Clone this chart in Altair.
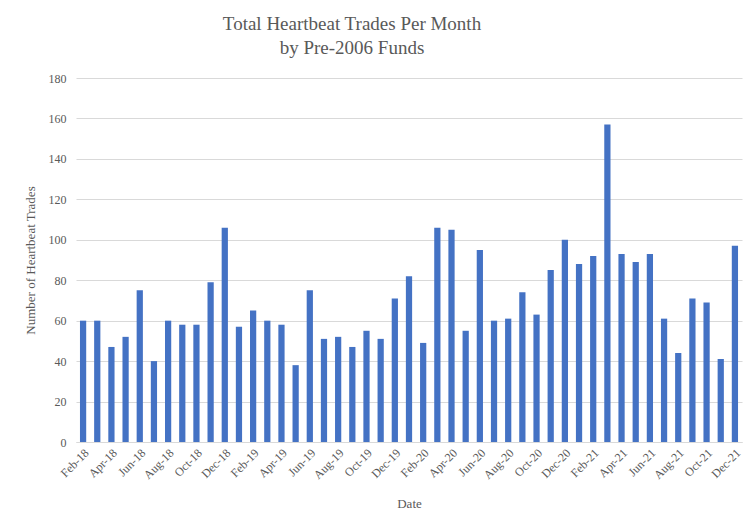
import altair as alt
import pandas as pd

months = [
    "Feb-18", "Mar-18", "Apr-18", "May-18", "Jun-18", "Jul-18", "Aug-18", "Sep-18", "Oct-18", "Nov-18", "Dec-18",
    "Jan-19", "Feb-19", "Mar-19", "Apr-19", "May-19", "Jun-19", "Jul-19", "Aug-19", "Sep-19", "Oct-19", "Nov-19", "Dec-19",
    "Jan-20", "Feb-20", "Mar-20", "Apr-20", "May-20", "Jun-20", "Jul-20", "Aug-20", "Sep-20", "Oct-20", "Nov-20", "Dec-20",
    "Jan-21", "Feb-21", "Mar-21", "Apr-21", "May-21", "Jun-21", "Jul-21", "Aug-21", "Sep-21", "Oct-21", "Nov-21", "Dec-21",
]
trades = [
    60, 60, 47, 52, 75, 40, 60, 58, 58, 79, 106,
    57, 65, 60, 58, 38, 75, 51, 52, 47, 55, 51, 71,
    82, 49, 106, 105, 55, 95, 60, 61, 74, 63, 85, 100,
    88, 92, 157, 93, 89, 93, 61, 44, 71, 69, 41, 97,
]
shown_labels = months[::2]
y_ticks = list(range(0, 181, 20))

df = pd.DataFrame({"Date": months, "Trades": trades})

FONT = "Liberation Serif"
GREY = "#595959"

chart = alt.Chart(df).mark_bar(color="#4472C4").encode(
    x=alt.X(
        "Date:N",
        sort=months,
        scale=alt.Scale(paddingInner=0.56, paddingOuter=0.28),
        axis=alt.Axis(
            title="Date",
            values=shown_labels,
            labelAngle=-45,
            labelFont=FONT,
            labelFontSize=12,
            labelColor=GREY,
            labelPadding=5,
            ticks=False,
            domainColor="#D9D9D9",
            titleFont=FONT,
            titleFontSize=13,
            titleFontWeight="normal",
            titleColor=GREY,
            titlePadding=17,
        ),
    ),
    y=alt.Y(
        "Trades:Q",
        scale=alt.Scale(domain=[0, 180]),
        axis=alt.Axis(
            title="Number of Heartbeat Trades",
            values=y_ticks,
            labelFont=FONT,
            labelFontSize=12,
            labelColor=GREY,
            labelPadding=10,
            ticks=False,
            domain=False,
            gridColor="#D9D9D9",
            titleFont=FONT,
            titleFontSize=13,
            titleFontWeight="normal",
            titleColor=GREY,
            titlePadding=11,
        ),
    ),
).properties(
    width=666,
    height=364,
    title=alt.TitleParams(
        text=["Total Heartbeat Trades Per Month", "by Pre-2006 Funds"],
        font=FONT,
        fontSize=19,
        fontWeight="normal",
        color=GREY,
        anchor="middle",
        dx=-57,
        lineHeight=24,
        offset=14,
    ),
    padding={"left": 68, "top": 70, "right": 1, "bottom": 78},
    autosize=alt.AutoSizeParams(type="none"),
).configure_view(stroke=None)

chart.save("out.html", embed_options={"renderer": "svg", "actions": False})
